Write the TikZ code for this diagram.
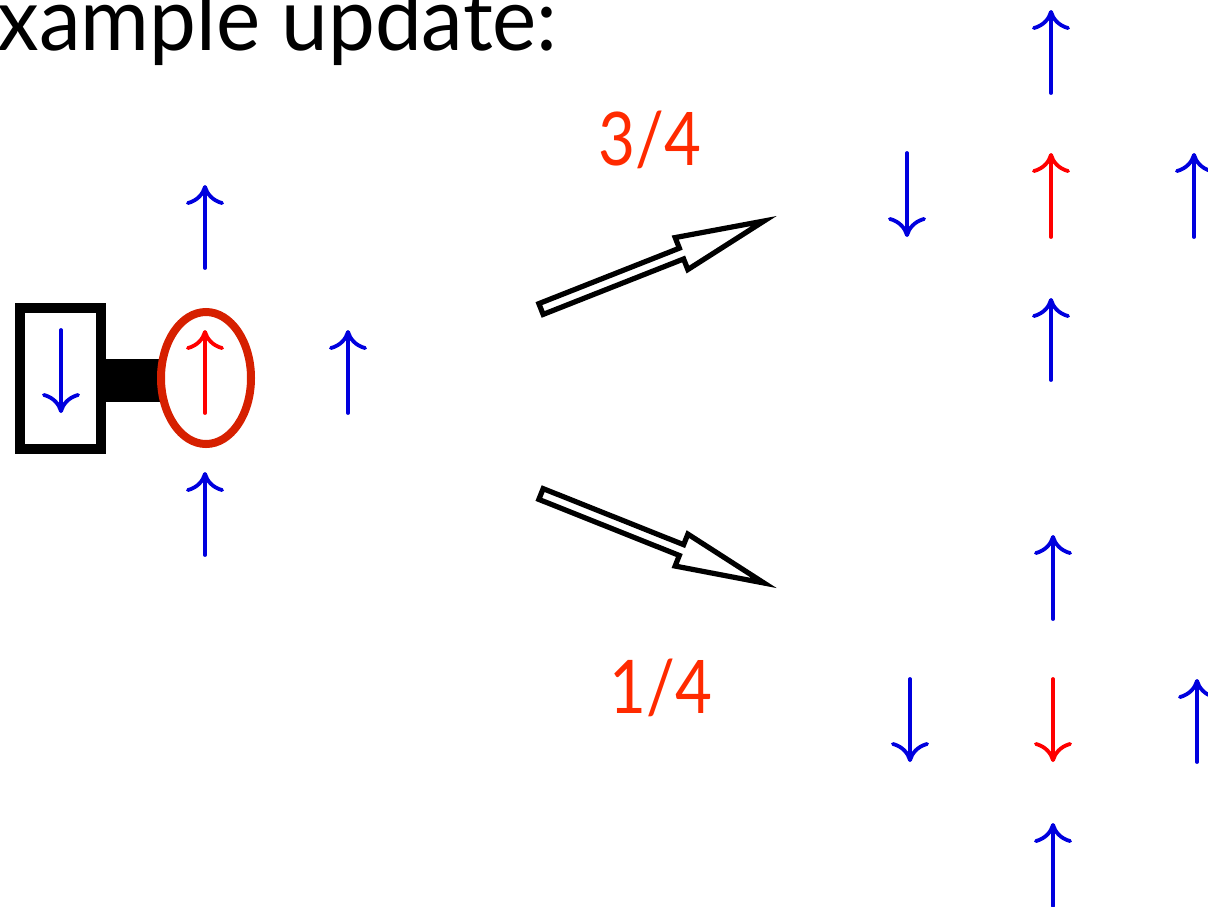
\documentclass[tikz,border=0pt]{standalone}
\usepackage{fontspec}
\setmainfont{Lato}
\usetikzlibrary{arrows.meta,calc}

\definecolor{spinblue}{RGB}{0,0,222}
\definecolor{spinred}{RGB}{255,0,0}
\definecolor{ringred}{RGB}{214,32,0}
\definecolor{probred}{RGB}{255,42,0}

\tikzset{
  spinarrow/.style={line width=1.9pt, line cap=round,
    -{Computer Modern Rightarrow[length=10pt,width=19pt,line width=1.9pt]}},
  bluespin/.style={spinarrow, spinblue},
  redspin/.style={spinarrow, spinred},
  prob/.style={text=probred, font=\fontsize{37}{40}\selectfont, inner sep=0pt, anchor=base, xscale=0.86},
  hollow/.style={draw=black, line width=2.6pt, line join=miter, fill=white},
}

% draws a hollow block arrow from #1 to #2
\newcommand{\blockarrow}[2]{%
  \coordinate (hb) at ($(#1)!0.63!(#2)$);
  \draw[hollow]
    ($(#1)!2.9pt!90:(#2)$) -- ($(hb)!2.9pt!90:(#2)$) -- ($(hb)!8.6pt!90:(#2)$)
    -- (#2) -- ($(hb)!8.6pt!-90:(#2)$) -- ($(hb)!2.9pt!-90:(#2)$)
    -- ($(#1)!2.9pt!-90:(#2)$) -- cycle;
}

\begin{document}
\begin{tikzpicture}[x=0.5pt,y=-0.5pt]
\useasboundingbox (0,0) rectangle (1208,906);
\clip (0,0) rectangle (1208,906);

% heading
\node[inner sep=0pt, anchor=base east, font=\fontsize{44}{48}\selectfont, xscale=0.95] (title) at (558,50) {example update:};

% ---- initial configuration ----
% fixed spin in a box, joined by a bar to the chosen site
\draw[line width=5pt] (20,308) rectangle (101,449);
\fill (101,359) rectangle (162,402);
\draw[ringred, line width=4pt] (206,378) ellipse [x radius=22.5pt, y radius=33pt];

\coordinate (b0) at (61,330);   \coordinate (b1) at (61,413);
\coordinate (c0) at (205,413);  \coordinate (c1) at (205,330);
\coordinate (r0) at (348,413);  \coordinate (r1) at (348,330);
\coordinate (u0) at (205,268);  \coordinate (u1) at (205,185);
\coordinate (d0) at (205,555);  \coordinate (d1) at (205,472);
\draw[bluespin] (b0) -- (b1);
\draw[redspin]  (c0) -- (c1);
\draw[bluespin] (r0) -- (r1);
\draw[bluespin] (u0) -- (u1);
\draw[bluespin] (d0) -- (d1);

% ---- transitions ----
\coordinate (ta) at (541,309); \coordinate (tipa) at (764,221);
\coordinate (tb) at (541,494); \coordinate (tipb) at (764,583);
\blockarrow{ta}{tipa}
\blockarrow{tb}{tipb}

\node[prob] (pa) at (650,165) {3/4};
\node[prob] (pb) at (661,713) {1/4};

% ---- outcome: centre spin kept ----
\coordinate (A1s) at (1051,93);  \coordinate (A1e) at (1051,10);
\coordinate (A2s) at (1051,237); \coordinate (A2e) at (1051,153);
\coordinate (A3s) at (907,153);  \coordinate (A3e) at (907,237);
\coordinate (A4s) at (1194,237); \coordinate (A4e) at (1194,153);
\coordinate (A5s) at (1051,380); \coordinate (A5e) at (1051,298);
\draw[bluespin] (A1s) -- (A1e);
\draw[redspin]  (A2s) -- (A2e);
\draw[bluespin] (A3s) -- (A3e);
\draw[bluespin] (A4s) -- (A4e);
\draw[bluespin] (A5s) -- (A5e);

% ---- outcome: centre spin flipped ----
\coordinate (B1s) at (1053,619); \coordinate (B1e) at (1053,535);
\coordinate (B2s) at (1053,679); \coordinate (B2e) at (1053,762);
\coordinate (B3s) at (910,679);  \coordinate (B3e) at (910,762);
\coordinate (B4s) at (1197,762); \coordinate (B4e) at (1197,679);
\coordinate (B5s) at (1053,906); \coordinate (B5e) at (1053,823);
\draw[bluespin] (B1s) -- (B1e);
\draw[redspin]  (B2s) -- (B2e);
\draw[bluespin] (B3s) -- (B3e);
\draw[bluespin] (B4s) -- (B4e);
\draw[bluespin] (B5s) -- (B5e);
\end{tikzpicture}
\end{document}
